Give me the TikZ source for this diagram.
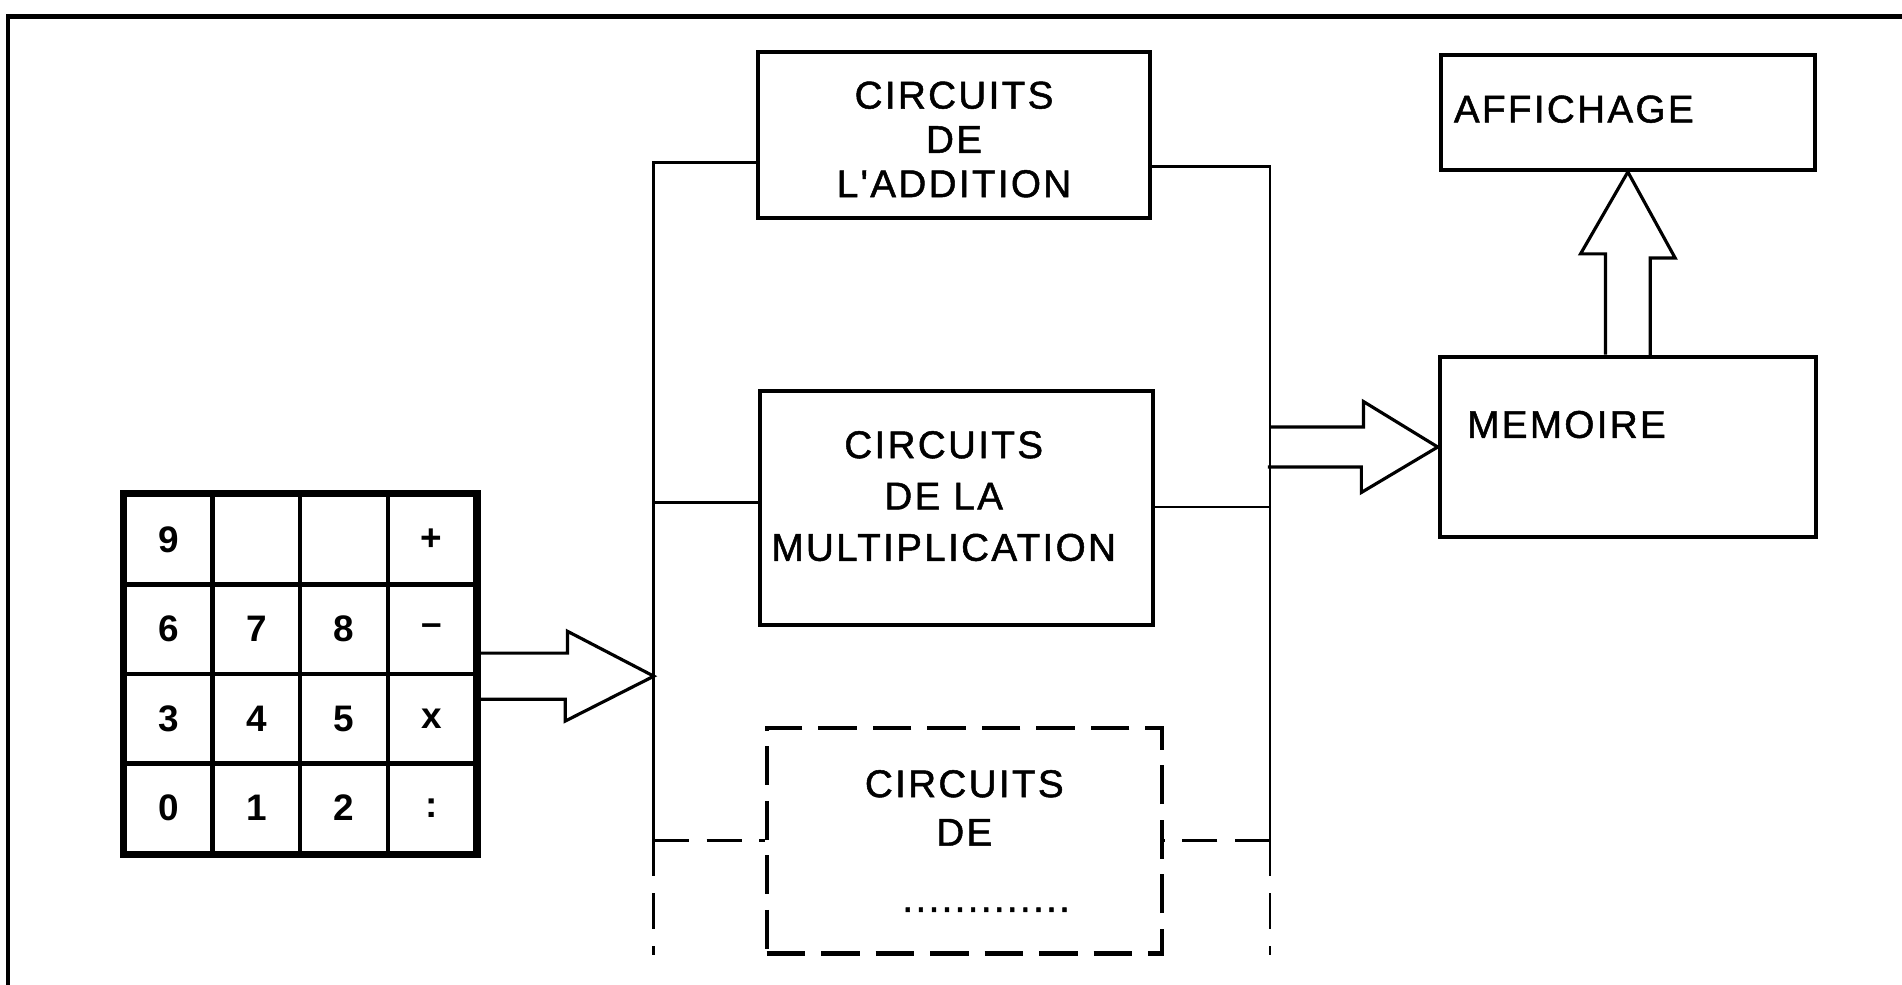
\documentclass[tikz,border=0pt]{standalone}
\usepackage{fontspec}
\setmainfont{Liberation Sans}
\newfontfamily\boxfont[LetterSpace=6,FakeBold=1.3]{Liberation Sans}

\tikzset{
  box/.style={draw, line width=1.2pt, inner sep=0pt},
  dbox/.style={box, dash pattern=on 11pt off 4.5pt},
  lbl/.style={align=center, inner sep=0pt, font=\boxfont\fontsize{11}{13.8}\selectfont},
  key/.style={draw, line width=1.3pt, minimum width=0.876cm, minimum height=0.895cm,
    inner sep=0pt, font=\bfseries\fontsize{10.5}{10.5}\selectfont},
  bus/.style={line width=0.8pt},
  busdash/.style={bus, dash pattern=on 10pt off 5pt},
  fat/.style={line width=0.9pt, line join=miter},
}

\begin{document}
\begin{tikzpicture}[x={(0.1213mm,0mm)},y={(0mm,-0.1213mm)}]
\useasboundingbox (0,0) rectangle (1568,812);

% cadre
\draw[line width=1.3pt] (6.5,812) -- (6.5,13.5) -- (1568,13.5);

% clavier
\foreach \lab [count=\i from 0] in {9,{},{},+,6,7,8,--,3,4,5,x,0,1,2,:} {
  \pgfmathtruncatemacro{\row}{\i/4}
  \pgfmathtruncatemacro{\col}{mod(\i,4)}
  \node[key] (k\i) at ({139.1+72.25*\col},{444.9+73.75*\row}) {\lab};
}
\draw[line width=1.6pt] (k0.north west) rectangle (k15.south east);

% circuits
\node[box, minimum width=3.918cm, minimum height=1.662cm] (add) at (786.5,111.5) {};
\node[lbl, font=\boxfont\fontsize{11}{12.6}\selectfont] (addtxt) at (786.5,115) {CIRCUITS\\DE\\L'ADDITION};
\node[box, minimum width=3.930cm, minimum height=2.341cm] (mult) at (788.5,418.5) {};
\node[lbl, font=\boxfont\fontsize{11}{14.6}\selectfont] (multtxt) at (778,409) {CIRCUITS\\DE LA\\MULTIPLICATION};
\node[dbox, minimum width=3.954cm, minimum height=2.256cm] (other) at (795,693) {};
\node[lbl] (othertxt) at (795,666) {CIRCUITS\\DE};
\node[lbl] (dots) at (813,750) {.............};

% memoire et affichage
\node[box, minimum width=3.760cm, minimum height=1.807cm] (mem) at (1342,368.5) {};
\node[lbl, anchor=west] (memtxt) at (1209,350) {MEMOIRE};
\node[box, minimum width=3.736cm, minimum height=1.152cm] (aff) at (1342,92.5) {};
\node[lbl, anchor=west] (afftxt) at (1198,90) {AFFICHAGE};

% bus gauche
\coordinate (lt) at (539,134);
\coordinate (lm) at (539,414);
\coordinate (ld) at (539,693);
\coordinate (lb) at (539,787);
\draw[bus] (add.west |- lt) -- (lt) -- (ld);
\draw[bus] (lm) -- (mult.west |- lm);
\draw[busdash] (ld) -- (other.west |- ld);
\draw[busdash] (ld) -- (lb);

% bus droit
\coordinate (rt) at (1047,137);
\coordinate (rm) at (1047,418);
\coordinate (rd) at (1047,693);
\coordinate (rb) at (1047,787);
\draw[bus] (add.east |- rt) -- (rt) -- (rd);
\draw[bus] (rm) -- (mult.east |- rm);
\draw[busdash] (rd) -- (other.east |- rd);
\draw[busdash] (rd) -- (rb);

% fleches
\draw[fat] (k7.south east) ++(0,-19) -- ++(74,0) -- ++(0,-18) -- (lt |- k7.south east)
  -- ++(-73,37) -- ++(0,-18) -- ++(-74,0);
\draw[fat] (rb |- mem.west) ++(0,-16.5) -- ++(77,0) -- ++(0,-21) -- (mem.west)
  -- ++(-63,37.5) -- ++(0,-21) -- ++(-77,0);
\draw[fat] (mem.north) ++(-18.5,0) -- ++(0,-83) -- ++(-20.5,0) -- (aff.south)
  -- ++(39,71) -- ++(-20.5,0) -- ++(0,83);
\end{tikzpicture}
\end{document}
